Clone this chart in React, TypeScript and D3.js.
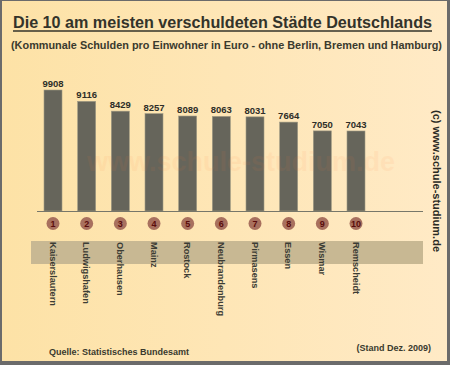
import React, { useEffect, useRef } from 'react'
import * as d3 from 'd3'

// data
const cities = ['Kaiserslautern', 'Ludwigshafen', 'Oberhausen', 'Mainz', 'Rostock', 'Neubrandenburg', 'Pirmasens', 'Essen', 'Wismar', 'Remscheidt']
const debts = [9908, 9116, 8429, 8257, 8089, 8063, 8031, 7664, 7050, 7043]
const ranks = ['1', '2', '3', '4', '5', '6', '7', '8', '9', '10']

const title = 'Die 10 am meisten verschuldeten Städte Deutschlands'
const subtitle = '(Kommunale Schulden pro Einwohner in Euro -  ohne Berlin, Bremen und Hamburg)'

const W = 450
const H = 365

const App = () => {
  const ref = useRef<SVGSVGElement | null>(null)

  useEffect(() => {
    const svg = d3.select(ref.current)
    svg.selectAll('*').remove()
    const font = 'Liberation Sans, Arial, sans-serif'

    const defs = svg.append('defs')
    const grad = defs.append('linearGradient').attr('id', 'bg').attr('x1', 0).attr('x2', 1).attr('y1', 0).attr('y2', 0)
    grad.append('stop').attr('offset', '0%').attr('stop-color', '#fde2a6')
    grad.append('stop').attr('offset', '100%').attr('stop-color', '#ffeac6')

    // frame
    svg.append('rect').attr('width', W).attr('height', H).attr('fill', '#6b6b6b')
    svg.append('rect').attr('x', 2).attr('y', 1).attr('width', W - 5).attr('height', H - 5).attr('fill', 'url(#bg)')

    // title
    svg.append('text').attr('x', 13).attr('y', 28).attr('textLength', 419).attr('lengthAdjust', 'spacingAndGlyphs')
      .attr('font-family', font).attr('font-weight', 'bold').attr('font-size', 16).attr('fill', '#33332a')
      .text(title)
    svg.append('line').attr('x1', 13).attr('x2', 432).attr('y1', 31).attr('y2', 31).attr('stroke', '#33332a').attr('stroke-width', 1.3)
    svg.append('text').attr('x', 11).attr('y', 49).attr('textLength', 431).attr('lengthAdjust', 'spacingAndGlyphs')
      .attr('font-family', font).attr('font-weight', 'bold').attr('font-size', 10.5).attr('fill', '#3a3a2e')
      .text(subtitle)

    const x = d3.scalePoint<string>().domain(cities).range([53, 356])
    const y = d3.scaleLinear().domain([1450, 9908]).range([211, 90])
    const bw = 18
    const rows = cities.map((c, i) => ({ city: c, value: debts[i], rank: ranks[i] }))

    // band behind the names
    svg.append('rect').attr('x', 31).attr('y', 241).attr('width', 392).attr('height', 23).attr('fill', '#c8b893')

    svg.selectAll('rect.bar').data(rows).join('rect').attr('class', 'bar')
      .attr('x', d => (x(d.city) as number) - bw / 2)
      .attr('y', d => y(d.value))
      .attr('width', bw)
      .attr('height', d => y.range()[0] - y(d.value))
      .attr('fill', '#66655b')
      .attr('stroke', '#a09a84').attr('stroke-width', 0.6)

    // faded watermark
    svg.append('text').attr('x', 241).attr('y', 171).attr('text-anchor', 'middle')
      .attr('font-family', font).attr('font-weight', 'bold').attr('font-size', 27)
      .attr('fill', '#ff7a3a').attr('opacity', 0.07).text('www.schule-studium.de')

    svg.selectAll('text.val').data(rows).join('text').attr('class', 'val')
      .attr('x', d => x(d.city) as number)
      .attr('y', d => y(d.value) - 3)
      .attr('text-anchor', 'middle').attr('font-family', font).attr('font-weight', 'bold').attr('font-size', 9.5)
      .attr('fill', '#2e2e28').text(d => d.value)

    // baseline
    svg.append('line').attr('x1', 37).attr('x2', 423).attr('y1', 211.5).attr('y2', 211.5).attr('stroke', '#77776a').attr('stroke-width', 1)

    // rank circles
    svg.selectAll('circle.rank').data(rows).join('circle').attr('class', 'rank')
      .attr('cx', d => x(d.city) as number).attr('cy', 223.5).attr('r', 6.5)
      .attr('fill', '#a8705e')
    svg.selectAll('text.rank').data(rows).join('text').attr('class', 'rank')
      .attr('x', d => x(d.city) as number).attr('y', 227)
      .attr('text-anchor', 'middle').attr('font-family', font).attr('font-weight', 'bold').attr('font-size', 9)
      .attr('fill', '#5a0c0c').text(d => d.rank)

    // city names, rotated
    svg.selectAll('text.city').data(rows).join('text').attr('class', 'city')
      .attr('transform', d => `translate(${(x(d.city) as number) - 3.5},242) rotate(90)`)
      .attr('font-family', font).attr('font-weight', 'bold').attr('font-size', 9.2)
      .attr('fill', '#3c3c34').text(d => d.city)

    svg.append('text').attr('transform', 'translate(433,110) rotate(90)')
      .attr('font-family', font).attr('font-weight', 'bold').attr('font-size', 11)
      .attr('fill', '#2a2a24').text('(c) www.schule-studium.de')

    svg.append('text').attr('x', 49).attr('y', 355)
      .attr('font-family', font).attr('font-weight', 'bold').attr('font-size', 9)
      .attr('fill', '#3a3a2e').text('Quelle: Statistisches Bundesamt')
    svg.append('text').attr('x', 431).attr('y', 351).attr('text-anchor', 'end')
      .attr('font-family', font).attr('font-weight', 'bold').attr('font-size', 9)
      .attr('fill', '#3a3a2e').text('(Stand Dez. 2009)')
  }, [])

  return (
    <svg ref={ref} width={W} height={H} style={{ position: 'absolute', left: 0, top: 0 }} />
  )
}

export default App
